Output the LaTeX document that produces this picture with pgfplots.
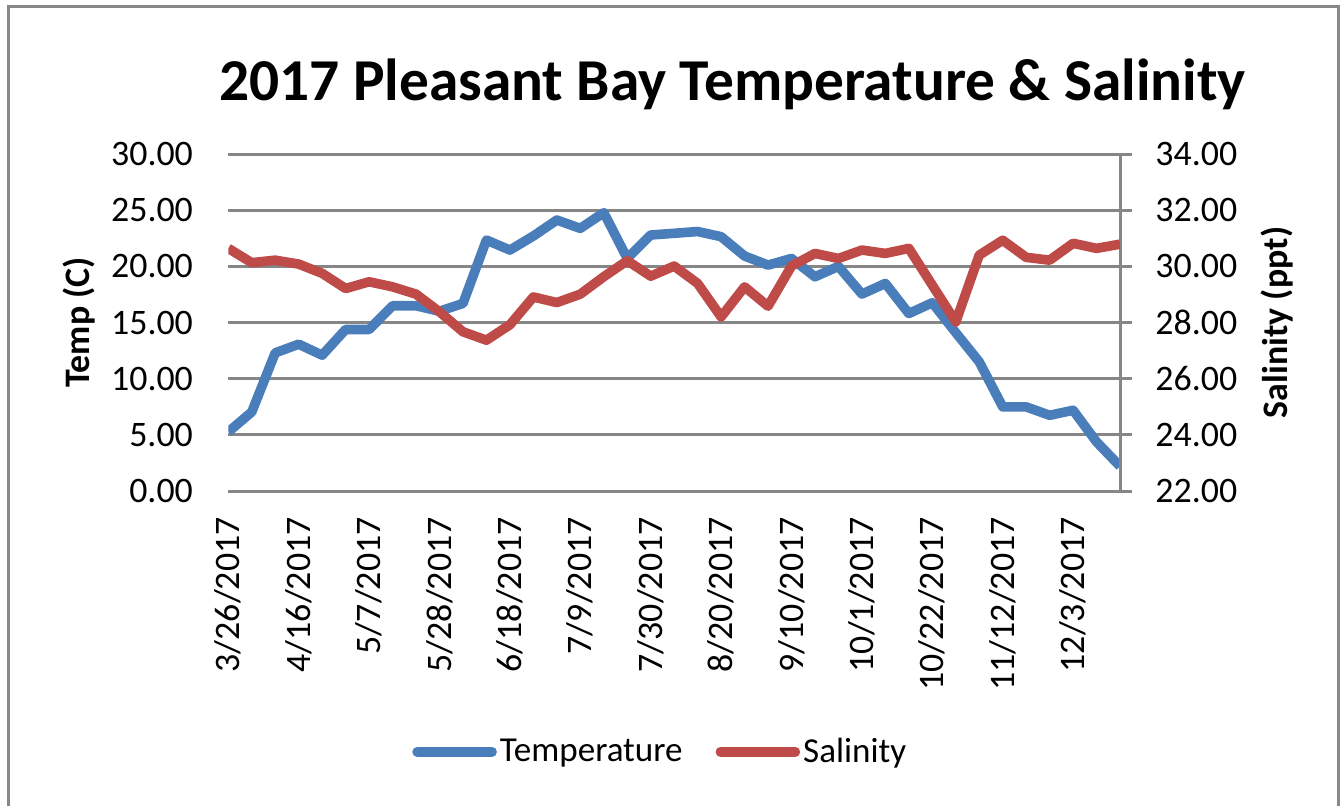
\documentclass[border=0pt]{standalone}
\usepackage{pgfplots}
\pgfplotsset{compat=1.18}
\usepackage{fontspec}
\setmainfont{Carlito}
\definecolor{tblue}{RGB}{74,126,187}
\definecolor{sred}{RGB}{190,75,72}
\definecolor{gridgray}{RGB}{134,134,134}
\definecolor{framegray}{RGB}{136,136,136}

\pgfplotstableread{
w temp sal
0 5.26 30.64
1 7.04 30.13
2 12.30 30.22
3 13.07 30.08
4 12.09 29.75
5 14.38 29.21
6 14.38 29.45
7 16.49 29.27
8 16.49 29.01
9 16.00 28.38
10 16.70 27.67
11 22.34 27.37
12 21.45 27.92
13 22.70 28.91
14 24.12 28.71
15 23.38 29.01
16 24.78 29.63
17 20.71 30.20
18 22.79 29.65
19 22.94 30.01
20 23.10 29.39
21 22.64 28.20
22 20.92 29.27
23 20.11 28.58
24 20.70 30.01
25 19.07 30.46
26 20.00 30.28
27 17.53 30.58
28 18.48 30.46
29 15.80 30.64
30 16.76 29.33
31 14.10 28.02
32 11.50 30.40
33 7.49 30.93
34 7.49 30.32
35 6.74 30.22
36 7.19 30.82
37 4.37 30.64
38 2.20 30.79
}\datatable

\begin{document}
\begin{tikzpicture}[x=0.5bp,y=-0.5bp]
\path[use as bounding box] (0,0) rectangle (1340,806);
\draw[framegray, line width=1.5bp] (8,806) -- (8,6) -- (1338,6) -- (1338,806);
\coordinate (O) at (228.3,491);
\node[anchor=base, inner sep=0pt, font=\fontsize{29.8}{34}\selectfont\bfseries] at (732.5,100) {2017 Pleasant Bay Temperature \& Salinity};

\begin{axis}[
  at={(O)}, anchor=south west, scale only axis,
  width=445.85bp, height=168.5bp,
  xmin=0, xmax=38, ymin=0, ymax=30,
  axis line style={draw=none},
  xtick={0,3,...,36},
  xticklabels={3/26/2017,4/16/2017,5/7/2017,5/28/2017,6/18/2017,7/9/2017,7/30/2017,8/20/2017,9/10/2017,10/1/2017,10/22/2017,11/12/2017,12/3/2017},
  ytick={0,5,...,30},
  yticklabels={0.00,5.00,10.00,15.00,20.00,25.00,30.00},
  tick style={draw=none},
  ymajorgrids,
  major grid style={gridgray, line width=1.5bp},
  tick label style={font=\fontsize{18}{21}\selectfont},
  xticklabel style={rotate=90, anchor=east, inner sep=0pt},
  xticklabel shift=13bp,
  yticklabel style={anchor=east, inner sep=0pt},
  yticklabel shift=17.5bp,
  every axis y label/.style={at={(axis description cs:-0.1551,0.5)}, rotate=90, anchor=base},
  ylabel={Temp (C)},
  label style={font=\fontsize{18}{21}\selectfont\bfseries},
]
\addplot[tblue, line width=4.8bp, line join=round] table[x=w, y=temp] {\datatable};
\end{axis}

\begin{axis}[
  at={(O)}, anchor=south west, scale only axis,
  width=445.85bp, height=168.5bp,
  xmin=0, xmax=38, ymin=22, ymax=34,
  axis x line=none,
  axis y line*=right,
  y axis line style={-, gridgray, line width=1.5bp},
  ytick={22,24,...,34},
  yticklabels={22.00,24.00,26.00,28.00,30.00,32.00,34.00},
  ytick style={gridgray, line width=1.5bp},
  tick align=outside,
  major tick length=6bp,
  tick label style={font=\fontsize{18}{21}\selectfont},
  yticklabel style={anchor=west, inner sep=0pt},
  yticklabel shift=11.5bp,
  every axis y label/.style={at={(axis description cs:1.1873,0.5)}, rotate=90, anchor=base},
  ylabel={Salinity (ppt)},
  label style={font=\fontsize{18}{21}\selectfont\bfseries},
  legend style={draw=none, fill=none, at={(0.485,-0.774)}, anchor=center,
    legend columns=2, font=\fontsize{17.6}{21}\selectfont,
    nodes={inner xsep=1.5bp},
    /tikz/every even column/.append style={column sep=15bp}},
  legend image code/.code={\draw[#1, line cap=round] (0bp,0bp) -- (37.5bp,0bp);},
]
\addlegendimage{tblue, line width=4.8bp}
\addlegendentry{Temperature}
\addplot[sred, line width=4.8bp, line join=round] table[x=w, y=sal] {\datatable};
\addlegendentry{Salinity}
\end{axis}
\end{tikzpicture}
\end{document}
